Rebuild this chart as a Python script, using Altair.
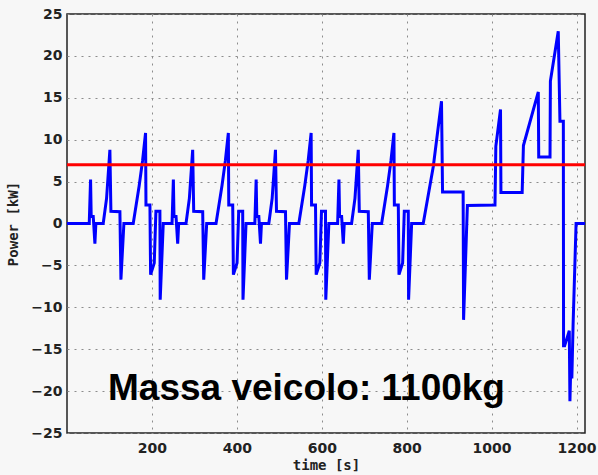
import altair as alt
import pandas as pd

# time [s] and power [kW]
time_s = [
    0, 52.4, 55.5, 57, 61.8, 65.7, 68, 85.3, 93.2, 101, 103.4, 124.6, 127, 134,
    156, 170, 178, 185, 186, 195.3, 196.9, 205.5, 209.4, 218.8, 219.5, 226.7,
    247.4, 250.5, 252, 256.8, 260.7, 263, 280.3, 288.2, 296, 298.4, 319.6, 322, 329,
    351, 365, 373, 380, 381, 390.3, 391.9, 400.5, 404.4, 413.8, 414.5, 421.7,
    442.4, 445.5, 447, 451.8, 455.7, 458, 475.3, 483.2, 491, 493.4, 514.6, 517, 524,
    546, 560, 568, 575, 576, 585.3, 586.9, 595.5, 599.4, 608.8, 609.5, 616.7,
    637.4, 640.5, 642, 646.8, 650.7, 653, 670.3, 678.2, 686, 688.4, 709.6, 712, 719,
    741, 755, 763, 770, 771, 780.3, 781.9, 790.5, 794.4, 803.8, 804.5, 811.7,
    839, 862.7, 882, 884.5, 933, 934, 943, 1008, 1010, 1021, 1022, 1072, 1075,
    1110, 1111, 1137.6, 1138.5, 1157, 1161, 1169, 1169.5, 1172, 1183, 1184.5,
    1187, 1189, 1192, 1199, 1220,
]
power_kw = [
    0, 0, 5.25, 0.85, 0.85, -2.4, 0, 0, 3.0, 8.8, 1.45, 1.4, -6.7, 0,
    0, 4.5, 7.5, 10.8, 2.2, 2.2, -6.1, -4.7, 1.45, 1.45, -9.1, 0,
    0, 5.25, 0.85, 0.85, -2.4, 0, 0, 3.0, 8.8, 1.45, 1.4, -6.7, 0,
    0, 4.5, 7.5, 10.8, 2.2, 2.2, -6.1, -4.7, 1.45, 1.45, -9.1, 0,
    0, 5.25, 0.85, 0.85, -2.4, 0, 0, 3.0, 8.8, 1.45, 1.4, -6.7, 0,
    0, 4.5, 7.5, 10.8, 2.2, 2.2, -6.1, -4.7, 1.45, 1.45, -9.1, 0,
    0, 5.25, 0.85, 0.85, -2.4, 0, 0, 3.0, 8.8, 1.45, 1.4, -6.7, 0,
    0, 4.5, 7.5, 10.8, 2.2, 2.2, -6.1, -4.7, 1.45, 1.45, -9.1, 0,
    0, 6.8, 14.6, 3.75, 3.75, -11.5, 2.15, 2.2, 9.2, 13.6, 3.7, 3.7, 9.3,
    15.7, 7.95, 7.95, 17, 22.95, 12.2, 12.2, -14.6, -14.6, -12.8, -21.2,
    -16, -18.5, -12, 0, 0,
]
threshold_kw = [7]
x_ticks = [200, 400, 600, 800, 1000, 1200]
y_ticks = [-25, -20, -15, -10, -5, 0, 5, 10, 15, 20, 25]
annotation = ["Massa veicolo: 1100kg"]

df = pd.DataFrame({"t": time_s, "p": power_kw, "order": list(range(len(time_s)))})
thr = pd.DataFrame({"v": threshold_kw})
lab = pd.DataFrame({"label": annotation})

x_scale = alt.Scale(domain=[0, 1220], nice=False, zero=False)
y_scale = alt.Scale(domain=[-25, 25], nice=False)

axis_common = dict(
    grid=True,
    gridColor="#8c8c8c",
    gridDash=[2, 5],
    gridWidth=1,
    ticks=False,
    domain=False,
    format="d",
    labelFont="DejaVu Sans",
    labelFontWeight="bold",
    labelFontSize=14,
    labelColor="#222222",
    titleFont="DejaVu Sans Mono",
    titleFontWeight="bold",
    titleFontSize=14,
    titleColor="#222222",
)

line = alt.Chart(df).mark_line(color="#0000ff", strokeWidth=3).encode(
    x=alt.X("t:Q", scale=x_scale,
            axis=alt.Axis(values=x_ticks, title="time [s]", labelPadding=8,
                          titlePadding=3, **axis_common)),
    y=alt.Y("p:Q", scale=y_scale,
            axis=alt.Axis(values=y_ticks, title="Power [kW]", labelPadding=5,
                          titlePadding=10, **axis_common)),
    order="order:Q",
)

rule = alt.Chart(thr).mark_rule(color="#ff0000", strokeWidth=3).encode(
    y=alt.Y("v:Q", scale=y_scale)
)

text = alt.Chart(lab).mark_text(
    font="Liberation Sans", fontWeight="bold", fontSize=37, color="#000000",
    align="center", baseline="alphabetic",
).encode(text="label:N", x=alt.value(239.5), y=alt.value(386))

chart = alt.layer(line, rule, text).properties(
    width=518,
    height=419,
    autosize=alt.AutoSizeParams(type="none"),
    padding={"left": 67, "top": 14, "right": 13, "bottom": 42},
    background="#f7f7f7",
).configure_view(stroke="#222222", strokeWidth=1.5, fill="#f7f7f7")

chart.save("out.html", embed_options={"renderer": "svg", "actions": False})
